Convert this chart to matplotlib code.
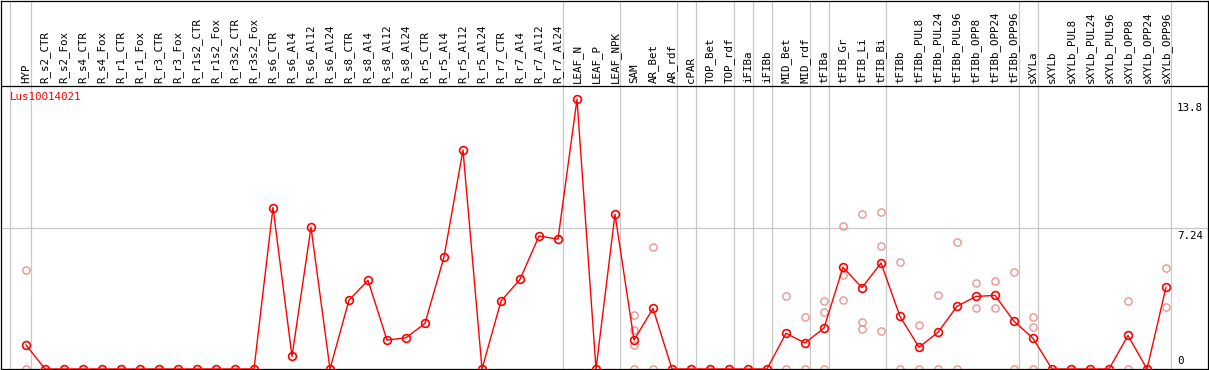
import numpy as np
import matplotlib
matplotlib.use("Agg")
import matplotlib.pyplot as plt

# --- data ---
GENE = "Lus10014021"

samples = [
    "HYP", "R_s2_CTR", "R_s2_Fox", "R_s4_CTR", "R_s4_Fox", "R_r1_CTR", "R_r1_Fox",
    "R_r3_CTR", "R_r3_Fox", "R_r1s2_CTR", "R_r1s2_Fox", "R_r3s2_CTR", "R_r3s2_Fox",
    "R_s6_CTR", "R_s6_Al4", "R_s6_Al12", "R_s6_Al24", "R_s8_CTR", "R_s8_Al4",
    "R_s8_Al12", "R_s8_Al24", "R_r5_CTR", "R_r5_Al4", "R_r5_Al12", "R_r5_Al24",
    "R_r7_CTR", "R_r7_Al4", "R_r7_Al12", "R_r7_Al24", "LEAF_N", "LEAF_P", "LEAF_NPK",
    "SAM", "AR_Bet", "AR_rdf", "cPAR", "TOP_Bet", "TOP_rdf", "iFIBa", "iFIBb",
    "MID_Bet", "MID_rdf", "tFIBa", "tFIB_Gr", "tFIB_Li", "tFIB_Bi", "tFIBb",
    "tFIBb_PUL8", "tFIBb_PUL24", "tFIBb_PUL96", "tFIBb_OPP8", "tFIBb_OPP24",
    "tFIBb_OPP96", "sXYLa", "sXYLb", "sXYLb_PUL8", "sXYLb_PUL24", "sXYLb_PUL96",
    "sXYLb_OPP8", "sXYLb_OPP24", "sXYLb_OPP96",
]

# mean expression per sample
mean_expr = [
    1.24, 0, 0, 0, 0, 0, 0, 0, 0, 0, 0, 0, 0,
    8.32, 0.65, 7.30, 0, 3.55, 4.57, 1.49, 1.61, 2.35, 5.77, 11.28, 0,
    3.50, 4.62, 6.85, 6.69, 13.9, 0, 7.97,
    1.49, 3.12, 0, 0, 0, 0, 0, 0,
    1.84, 1.34, 2.11, 5.24, 4.19, 5.46, 2.71,
    1.12, 1.89, 3.23, 3.74, 3.79, 2.46,
    1.58, 0, 0, 0, 0, 1.73, 0, 4.21,
]

# individual replicates (sample name -> values)
replicates = {
    "HYP": [5.1, 0],
    "SAM": [2.77, 2.01, 1.25, 0],
    "AR_Bet": [6.27, 0],
    "MID_Bet": [3.74, 0],
    "MID_rdf": [2.68, 0],
    "tFIBa": [3.50, 2.92, 0],
    "tFIB_Gr": [7.35, 4.82, 3.54],
    "tFIB_Li": [7.96, 2.42, 2.06],
    "tFIB_Bi": [8.07, 6.33, 1.94],
    "tFIBb": [5.49, 0],
    "tFIBb_PUL8": [2.25, 0],
    "tFIBb_PUL24": [3.79, 0],
    "tFIBb_PUL96": [6.52, 0],
    "tFIBb_OPP8": [4.41, 3.12],
    "tFIBb_OPP24": [4.53, 3.12],
    "tFIBb_OPP96": [4.98, 0],
    "sXYLa": [2.68, 2.16, 0],
    "sXYLb_OPP8": [3.48, 0],
    "sXYLb_OPP96": [5.18, 3.18],
}

# group separators: drawn after these samples
group_ends = ["HYP", "R_r7_Al24", "LEAF_NPK", "AR_rdf", "cPAR", "TOP_rdf", "iFIBa",
              "iFIBb", "MID_rdf", "tFIBa", "tFIB_Bi", "tFIBb_OPP96", "sXYLa",
              "sXYLb_OPP96"]

y_ticks = [13.8, 7.24, 0]

# --- layout (pixel based) ---
W, H = 1209, 370
PX_PER_UNIT = 19.41      # vertical pixels per expression unit
Y0_PX = 369              # pixel row of value 0
X0_PX, DX_PX = 26, 19    # first column centre and column step
HEADER_PX = 85.5

MAIN = "#ff0000"
REP = "#ec9494"
GRID = "#c8c8c8"

plt.rcParams["font.family"] = "DejaVu Sans Mono"

fig = plt.figure(figsize=(W / 100, H / 100), dpi=100)
left_px, right_px, top_px = 1, 1207.5, 0.5
ax = fig.add_axes([left_px / W, (H - Y0_PX) / H, (right_px - left_px) / W,
                   (Y0_PX - top_px) / H])
ax.set_xlim((left_px - X0_PX) / DX_PX, (right_px - X0_PX) / DX_PX)
ax.set_ylim(0, (Y0_PX - top_px) / PX_PER_UNIT)
ax.set_xticks([])
ax.set_yticks([])
for s in ax.spines.values():
    s.set_color("black")
    s.set_linewidth(0.9)

x = np.arange(len(samples))
y_header = (Y0_PX - HEADER_PX) / PX_PER_UNIT

# header separator and gridline
ax.axhline(y_header, color="black", lw=0.9, zorder=3)
ax.axhline(y_ticks[1], color=GRID, lw=0.9, zorder=1)

# vertical group lines
ax.axvline((10 - X0_PX) / DX_PX, color=GRID, lw=0.9, zorder=1)
for name in group_ends:
    ax.axvline(samples.index(name) + 0.25, color=GRID, lw=0.9, zorder=1)

# sample labels in the header
label_y = (Y0_PX - 83) / PX_PER_UNIT
for xi, name in zip(x, samples):
    ax.text(xi, label_y, name, rotation=90, ha="center", va="bottom",
            fontsize=7.8, color="black")

# replicate points
for name, vals in replicates.items():
    xi = samples.index(name)
    ax.plot([xi] * len(vals), vals, linestyle="none", marker="o", ms=5.2,
            mfc="none", mec=REP, mew=1.0, zorder=2)

# mean line
ax.plot(x, mean_expr, color=MAIN, lw=1.0, marker="o", ms=5.6, mfc="none",
        mec=MAIN, mew=1.2, zorder=4)

# gene name
ax.text((10 - X0_PX) / DX_PX, (Y0_PX - 97) / PX_PER_UNIT, GENE, color=MAIN,
        fontsize=7.8, ha="left", va="center")

# right side value labels
tx = (1177 - X0_PX) / DX_PX
for v in y_ticks:
    if v == 0:
        ax.annotate("0", (tx, v), xytext=(0, 2), textcoords="offset points",
                    ha="left", va="bottom", fontsize=7.8)
    else:
        ax.annotate(f"{v:g}", (tx, v), xytext=(0, -1.5), textcoords="offset points",
                    ha="left", va="top", fontsize=7.8)

fig.savefig("out.png", dpi=100)
